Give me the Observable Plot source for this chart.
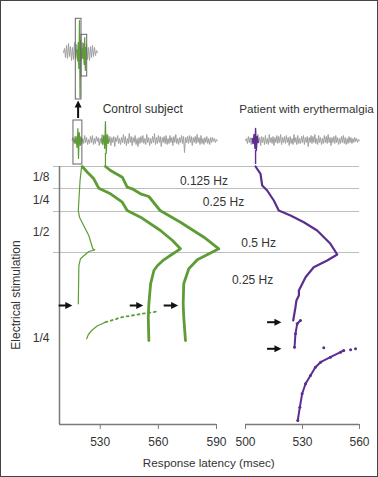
<!DOCTYPE html>
<html><head><meta charset="utf-8">
<script src="https://cdn.jsdelivr.net/npm/d3@7"></script>
<script src="https://cdn.jsdelivr.net/npm/@observablehq/plot@0.6"></script>
<style>
body{margin:0;background:#fff;font-family:"Liberation Sans",Arial,sans-serif;}
#wrap{position:relative;width:378px;height:477px;overflow:hidden;background:#fff;}
#wrap svg{position:absolute;}
.frame{position:absolute;left:0;top:0;width:378px;height:477px;box-sizing:border-box;border:1px solid #444;pointer-events:none;}
.lbl{position:absolute;white-space:nowrap;line-height:1;color:#333;font-size:12px;}
</style></head><body><div id="wrap"></div><script>
// ---------- data ----------
const bounds = [0, 22, 45, 86, 258];            // stimulus number at rate changes
const rateLabels = ["1/8", "1/4", "1/2", "1/4"];
const hzText = ["0.125 Hz", "0.25 Hz", "0.5 Hz", "0.25 Hz"];
const hzLat = [583.5, 593.6, 611.7, 608.6];
const hzStim = [15, 36, 77, 113.7];
const xTicksControl = [530, 560, 590];
const xTicksPatient = [500, 530, 560];

// control subject, fibre A (thin)
const aLat  = [520.4, 519.6, 518.7, 519.3, 524.1, 526.2, 527.2, 524.1, 520.7, 519.8, 519.0, 518.7];
const aStim = [0, 14, 44, 50.7, 69, 82.3, 83.3, 85, 90.7, 92.3, 99, 137.3];
const aRecLat  = [523.0, 523.9, 525.6, 528.4, 532.7];
const aRecStim = [172.3, 168, 164, 159.5, 155.7];
const aDotLat  = [532.7, 541.3, 553.4, 555, 560.2];
const aDotStim = [155.7, 150.7, 146.7, 146.4, 144.7];
// fibre B
const bLat  = [520.7, 523.5, 526.7, 528.5, 529.3, 535.3, 541.4, 543.9, 550.8, 561.1, 567.3, 571.4, 567.3, 562.8, 559.6, 557.7, 556.0, 555.1, 554.8, 555.1];
const bStim = [0, 6, 12.3, 19, 21.7, 27.3, 35.7, 44, 50.7, 64, 74, 82.3, 87.5, 93.3, 99, 104, 117.3, 137.3, 150.7, 174];
// fibre C
const cLat  = [532.7, 535.3, 541.4, 543.9, 546.5, 550.8, 555.1, 560.9, 571.4, 583.5, 591.2, 585.9, 580.1, 575.7, 573.1, 572.8, 573.1, 574.0];
const cStim = [0, 4, 10.7, 20.7, 22.3, 27.3, 30, 44, 55.7, 70.7, 82.3, 87.5, 93.3, 102.3, 117.3, 137.3, 150.7, 174];
// patient
const p1Lat  = [505.3, 507.9, 508.8, 511.4, 514.9, 517.5, 523.7, 530.7, 537.7, 544.7, 548.3, 543.0, 535.9, 531.6, 528.1, 528.1, 526.8, 526.3, 525.4, 525.1];
const p1Stim = [0, 7.3, 19, 24, 34, 44, 49, 55.7, 64, 77.3, 88, 94, 100.7, 110.7, 124, 129, 134, 140.7, 150.7, 154];
const p2Lat  = [528.9, 527.2, 526.3, 525.8];
const p2Stim = [154, 157.3, 167.3, 180.7];
const p3Lat  = [557.9, 555.3, 551.7, 550.0, 544.7, 539.5, 536.8, 534.2, 531.6, 529.8, 528.6, 527.5];
const p3Stim = [182.3, 183.3, 184, 185.7, 190.7, 195.7, 200.7, 209, 217.3, 227.3, 240.7, 254];
const pLoneLat = [541.2], pLoneStim = [181.3];

// arrows
const arrowLStim = [139, 139, 139];
const arrowLFrom = [508.8, 545.5, 563.0];
const arrowLTip  = [515.6, 552.2, 570.2];
const arrowRStim = [155.7, 182.3];
const arrowRFrom = [511.6, 511.6];
const arrowRTip  = [518.9, 518.9];

// recordings (amplitude, arbitrary units)
const ctrlStart = 515.5, patStart = 500, step = 0.5;
const ctrlNoise = [0,3,-2,4,-3,2,-5,3,-1,4, -4,2,-3,5,-2,3,-4,1,-3,4, -2,5,-4,2,-3,4,-1,3,-5,2,
 -3,6,-2,3,-4,2,-3,5,-2,4, -5,3,-2,4,-6,3,-1,5,-3,2, -4,3,-2,6,-3,4,-5,2,-3,7,
 -2,4,-5,3,-2,5,-4,2,-6,3, -3,4,-2,5,-3,2,-4,6,-2,3, -5,2,-3,4,-2,7,-4,3,-3,5,
 -2,4,-6,3,-2,4,-3,5,-4,2, -3,5,-2,3,-5,4,-2,6,-3,2, -4,3,-2,5,-3,4,-12,3,-2,4,
 -3,5,-2,4,-5,3,-2,4,-3,6, -2,3,-4,5,-3,2,-4,3,-2,4, -3,2,-4,3,-2,3,-1,2,-2,1, 0];
const patNoise = [0,2,-3,4,-2,3,-4,2,-3,5, -2,4,-3,6,-2,3,-5,4,-2,3, -4,5,-3,2,-4,6,-2,3,-3,4,
 -5,3,-2,5,-3,4,-2,6,-4,3, -2,4,-3,5,-2,3,-5,4,-3,2, -4,6,-2,3,-4,5,-3,2,-3,4,
 -2,5,-4,3,-2,4,-6,3,-2,5, -3,4,-2,6,-3,2,-4,5,-2,3, -4,2,-3,5,-2,4,-3,6,-2,3,
 -5,3,-2,4,-3,5,-2,3,-4,2, -3,4,-2,5,-3,3,-4,2,-3,4, -2,3,-3,2,-2,3,-1,2,-2,1, 0];
const spike1Lat = [516.5, 517, 517.5, 518, 518.5, 518.8, 519.2, 519.7, 520.2, 520.7];
const spike1Amp = [1, -3, 4, -7, 12, -18, 8, -5, 3, -1];
const spike2Lat = [530.8, 531.3, 531.8, 532.3, 532.7, 533.1, 533.6, 534.1, 534.6];
const spike2Amp = [2, -4, 5, -8, 19, -13, 6, -3, 1];
const pSpikeLat = [503.5, 504, 504.5, 505, 505.3, 505.7, 506.2, 506.7];
const pSpikeAmp = [2, -3, 6, -8, 12, -10, 4, -2];
const insetNoise = [0,4,-5,7,-6,9,-4,6,-8,5, -7,10,-6,8,-9,6,-5,7,-8,10, -6,8,-4,9,-7,5,-8,6,-5,7, -4,5,-3,2,0];
const insetS1X = [13, 14, 14.7, 15.3, 16, 16.5, 17, 17.7];
const insetS1A = [3, -7, 10, -16, 32, -45, 12, -5];
const insetS2X = [18.6, 19.3, 20, 20.6, 21.2, 21.8, 22.5];
const insetS2A = [4, -6, 9, -12, 15, -18, 5];

// ---------- helpers ----------
const GREEN = "#5e9d36", PURPLE = "#5b2e8f", GREY = "#a0a0a0", AXIS = "#7a7a7a", INK = "#333";
const W = 378, H = 477;
const wrap = document.getElementById("wrap");
const pts = (xs, ys) => xs.map((x, i) => ({x, y: ys[i]}));
const arrows = (s, f, t) => s.map((v, i) => ({s: v, from: f[i], tip: t[i]}));
const style = {fontFamily: '"Liberation Sans", Arial, sans-serif', fontSize: "12px", color: INK, background: "transparent", overflow: "visible"};
function place(svg, left, top) { svg.style.left = left + "px"; svg.style.top = top + "px"; wrap.appendChild(svg); }
const headRight = {draw(ctx, size) { const r = Math.sqrt(size / Math.PI); ctx.moveTo(0, 0); ctx.lineTo(-2 * r, -r); ctx.lineTo(-2 * r, r); ctx.closePath(); }};
const headUp = {draw(ctx, size) { const r = Math.sqrt(size / Math.PI); ctx.moveTo(0, 0); ctx.lineTo(-r, 2 * r); ctx.lineTo(r, 2 * r); ctx.closePath(); }};
const yTickPos = bounds.slice(0, 4).map((b, i) => (b + bounds[i + 1]) / 2);
const labelAt = new Map(yTickPos.map((p, i) => [p, rateLabels[i]]));
const hz = hzText.map((t, i) => ({t, x: hzLat[i], y: hzStim[i]}));

// ---------- control panel ----------
const arrL = arrows(arrowLStim, arrowLFrom, arrowLTip);
place(Plot.plot({
  width: W, height: H, marginTop: 166, marginBottom: 53, marginLeft: 59, marginRight: 162, style,
  x: {domain: [509, 590]},
  y: {domain: [0, 258], range: [166, 424]},
  marks: [
    Plot.ruleY(bounds.slice(0, 4), {x1: 505.9, x2: 663.8, stroke: "#bdbdbd", strokeWidth: 1}),
    Plot.ruleX([509], {y1: 0, y2: 258, stroke: AXIS, strokeWidth: 1.5}),
    Plot.ruleY([258], {x1: 509, x2: 590, stroke: AXIS, strokeWidth: 1.5}),
    Plot.axisX(xTicksControl, {anchor: "bottom", tickSize: 5, tickPadding: 8, stroke: AXIS, fill: INK, fontSize: 12, label: null}),
    Plot.axisY(yTickPos, {anchor: "left", tickSize: 0, tickPadding: 10, tickFormat: d => labelAt.get(d), fill: INK, fontSize: 12, label: null}),
    Plot.line(pts(aLat, aStim), {x: "x", y: "y", stroke: GREEN, strokeWidth: 1.2}),
    Plot.line(pts(aRecLat, aRecStim), {x: "x", y: "y", stroke: GREEN, strokeWidth: 1.2}),
    Plot.line(pts(aDotLat, aDotStim), {x: "x", y: "y", stroke: GREEN, strokeWidth: 1.8, strokeDasharray: "2,3.5"}),
    Plot.line(pts(bLat, bStim), {x: "x", y: "y", stroke: GREEN, strokeWidth: 2.8, strokeLinejoin: "round"}),
    Plot.line(pts(cLat, cStim), {x: "x", y: "y", stroke: GREEN, strokeWidth: 2.8, strokeLinejoin: "round"}),
    Plot.ruleY(arrL, {y: "s", x1: "from", x2: "tip", stroke: "#111", strokeWidth: 2, insetRight: 3}),
    Plot.dot(arrL, {x: "tip", y: "s", symbol: headRight, r: 3.5, fill: "#111", stroke: "none"}),
    Plot.text(hz, {x: "x", y: "y", text: "t", fill: INK, fontSize: 12})
  ]
}), 0, 0);

// ---------- patient panel ----------
const arrR = arrows(arrowRStim, arrowRFrom, arrowRTip);
place(Plot.plot({
  width: W, height: H, marginTop: 166, marginBottom: 53, marginLeft: 245, marginRight: 19, style,
  x: {domain: [500, 560]},
  y: {domain: [0, 258], range: [166, 424], axis: null},
  marks: [
    Plot.ruleY([258], {x1: 500, x2: 560, stroke: AXIS, strokeWidth: 1.5}),
    Plot.axisX(xTicksPatient, {anchor: "bottom", tickSize: 5, tickPadding: 8, stroke: AXIS, fill: INK, fontSize: 12, label: null}),
    Plot.line(pts(p1Lat, p1Stim), {x: "x", y: "y", stroke: PURPLE, strokeWidth: 2.2, strokeLinejoin: "round"}),
    Plot.line(pts(p2Lat, p2Stim), {x: "x", y: "y", stroke: PURPLE, strokeWidth: 2}),
    Plot.line(pts(p3Lat, p3Stim).slice(2), {x: "x", y: "y", stroke: PURPLE, strokeWidth: 2}),
    Plot.dot(pts(p3Lat, p3Stim).concat(pts(p2Lat, p2Stim), pts(pLoneLat, pLoneStim)), {x: "x", y: "y", r: 1.5, fill: PURPLE}),
    Plot.ruleY(arrR, {y: "s", x1: "from", x2: "tip", stroke: "#111", strokeWidth: 2, insetRight: 3}),
    Plot.dot(arrR, {x: "tip", y: "s", symbol: headRight, r: 3.5, fill: "#111", stroke: "none"})
  ]
}), 0, 0);

// ---------- recordings ----------
const ctrlTrace = ctrlNoise.map((a, i) => ({x: ctrlStart + i * step, y: a}));
const patTrace = patNoise.map((a, i) => ({x: patStart + i * step, y: a}));
place(Plot.plot({
  width: W, height: 75, marginTop: 0, marginBottom: 0, marginLeft: 59, marginRight: 162, style,
  x: {domain: [509, 590], axis: null},
  y: {domain: [-30, 45], axis: null},
  marks: [
    Plot.line(ctrlTrace, {x: "x", y: "y", stroke: GREY, strokeWidth: 1}),
    Plot.line(pts(spike1Lat, spike1Amp), {x: "x", y: "y", stroke: GREEN, strokeWidth: 1.2}),
    Plot.line(pts(spike2Lat, spike2Amp), {x: "x", y: "y", stroke: GREEN, strokeWidth: 1.2}),
    Plot.ruleX([spike2Lat[4]], {y1: -13, y2: -26, stroke: GREEN, strokeWidth: 1.2}),
    Plot.rect([{x1: 516.2, x2: 520.8, y1: -24, y2: 20}], {x1: "x1", x2: "x2", y1: "y1", y2: "y2", fill: "none", stroke: "#666", strokeWidth: 1}),
    Plot.ruleX([518.6], {y1: 22, y2: 35, stroke: "#111", strokeWidth: 2}),
    Plot.dot([{x: 518.6, y: 40}], {x: "x", y: "y", symbol: headUp, r: 3.5, fill: "#111", stroke: "none"})
  ]
}), 0, 95);

place(Plot.plot({
  width: W, height: 75, marginTop: 0, marginBottom: 0, marginLeft: 245, marginRight: 19, style,
  x: {domain: [500, 560], axis: null},
  y: {domain: [-30, 45], axis: null},
  marks: [
    Plot.line(patTrace, {x: "x", y: "y", stroke: GREY, strokeWidth: 1}),
    Plot.line(pts(pSpikeLat, pSpikeAmp), {x: "x", y: "y", stroke: PURPLE, strokeWidth: 1.4}),
    Plot.ruleX([pSpikeLat[4]], {y1: -10, y2: -24, stroke: PURPLE, strokeWidth: 1.4})
  ]
}), 0, 95);

// inset: enlarged view of the boxed action potential
place(Plot.plot({
  width: 40, height: 87, marginTop: 0, marginBottom: 0, marginLeft: 3, marginRight: 3, style,
  x: {domain: [0, 34], axis: null},
  y: {domain: [-50, 37], axis: null},
  marks: [
    Plot.line(insetNoise.map((a, i) => ({x: i, y: a})), {x: "x", y: "y", stroke: GREY, strokeWidth: 1}),
    Plot.line(pts(insetS1X, insetS1A), {x: "x", y: "y", stroke: GREEN, strokeWidth: 1.2}),
    Plot.line(pts(insetS2X, insetS2A), {x: "x", y: "y", stroke: GREEN, strokeWidth: 1.2}),
    Plot.rect([{x1: 12.3, x2: 18, y1: -47, y2: 33.7}, {x1: 18, x2: 23.7, y1: -24, y2: 17.7}],
      {x1: "x1", x2: "x2", y1: "y1", y2: "y2", fill: "none", stroke: "#666", strokeWidth: 1})
  ]
}), 60, 15);

// ---------- titles ----------
function label(text, css) { const d = document.createElement("div"); d.className = "lbl"; d.textContent = text; Object.assign(d.style, css); wrap.appendChild(d); }
label("Control subject", {left: "102.7px", top: "102.5px"});
label("Patient with erythermalgia", {left: "239.3px", top: "102.7px", fontSize: "11.7px"});
label("Response latency (msec)", {left: "208.8px", top: "456.8px", fontSize: "11.7px", transform: "translateX(-50%)"});
label("Electrical stimulation", {left: "16px", top: "295px", transform: "translate(-50%,-50%) rotate(-90deg)"});
const fr = document.createElement("div"); fr.className = "frame"; wrap.appendChild(fr);
</script></body></html>
